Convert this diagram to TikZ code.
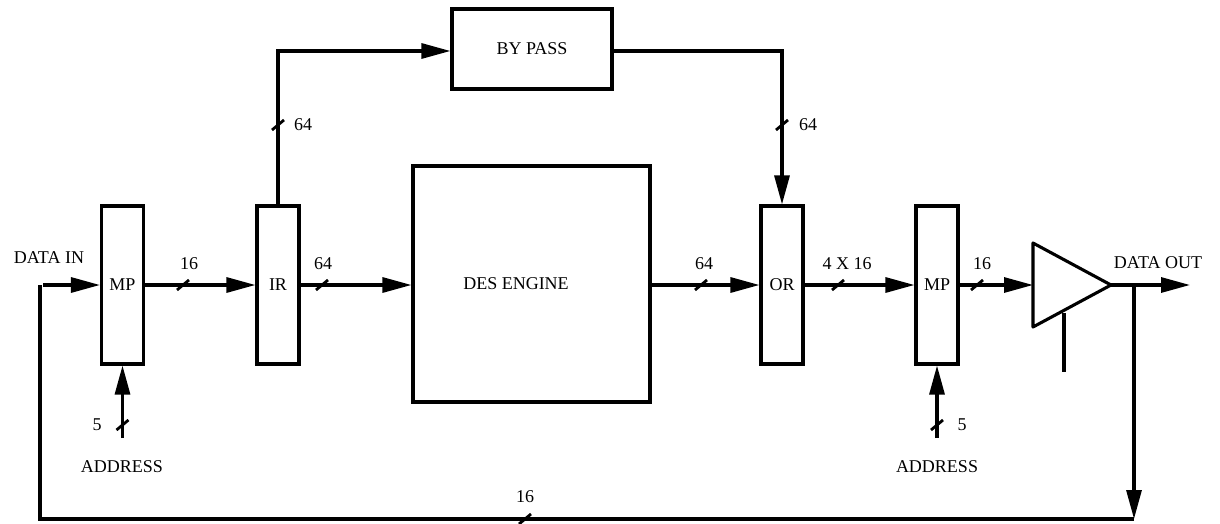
\documentclass[tikz,border=0pt]{standalone}
\usepackage{fontspec}
\setmainfont{Liberation Serif}
\usetikzlibrary{arrows.meta}
\begin{document}
\begin{tikzpicture}[x=1pt,y=-1pt, line width=3.1pt,
  every node/.style={font=\fontsize{18}{20}\selectfont},
  box/.style={draw, line width=3.1pt, inner sep=0pt, minimum width=42pt, minimum height=158pt},
  bigbox/.style={draw, line width=3.1pt, inner sep=0pt},
  arr/.style={-{Triangle[length=29pt,width=15pt]}},
  lbl/.style={inner sep=0pt},
  busmark/.pic={\draw[line width=2.8pt] (-6,5)--(6,-5);}
]
\useasboundingbox (0,0) rectangle (1220,524);

% blocks
\node[box] (mp1) at (122.5,285) {MP};
\node[box] (ir) at (278,285) {IR};
\node[bigbox, minimum width=237pt, minimum height=236pt] (des) at (531.5,284) {};
\node[lbl] (destxt) at (516,284) {DES ENGINE};
\node[bigbox, minimum width=160pt, minimum height=80pt] (bp) at (532,49) {BY PASS};
\node[box] (or) at (782,285) {OR};
\node[box] (mp2) at (937,285) {MP};

% buffer triangle
\coordinate (tl) at (1033,243);
\coordinate (tb) at (1033,327);
\coordinate (tip) at (1111,285);
\coordinate (tin) at (1033,285);
\draw[line join=round] (tl) -- (tip) -- (tb) -- cycle;
\coordinate (en1) at (1064,313);
\coordinate (en2) at (1064,372);
\draw (en1) -- (en2);

% coordinates
\coordinate (din) at (43,285);
\coordinate (fbl) at (40,285);
\coordinate (fbbl) at (40,519);
\coordinate (fbbr) at (1134,519);
\coordinate (fbtop) at (1134,285);
\coordinate (dout) at (1190,285);
\coordinate (a1) at (122.5,438);
\coordinate (a2) at (937,438);
\coordinate (irup) at (278,51);
\coordinate (bpr) at (782,51);

% main data path
\draw[arr] (din) -- (mp1.west);
\draw[arr] (mp1.east) -- (ir.west);
\draw[arr] (ir.east) -- (des.west |- ir.east);
\draw[arr] (des.east |- or.west) -- (or.west);
\draw[arr] (or.east) -- (mp2.west);
\draw[arr] (mp2.east) -- (tin);
\draw[arr] (tip) -- (dout);

% bypass
\draw[arr] (ir.north) -- (irup) -- (bp.west |- irup);
\draw[arr] (bp.east |- bpr) -- (bpr) -- (or.north);

% address inputs
\draw[arr] (a1) -- (mp1.south);
\draw[arr] (a2) -- (mp2.south);

% feedback
\draw[arr] (fbtop) -- (fbbr);
\draw (fbbr) -- (fbbl) -- (fbl);

% bus marks
\pic at (183,285) {busmark};
\pic at (322,285) {busmark};
\pic at (701,285) {busmark};
\pic at (838,285) {busmark};
\pic at (977,285) {busmark};
\pic at (278,125) {busmark};
\pic at (782,125) {busmark};
\pic at (122.5,425) {busmark};
\pic at (937,425) {busmark};
\pic at (525,519) {busmark};

% labels
\node[lbl] (l1) at (189,264) {16};
\node[lbl] (l2) at (323,264) {64};
\node[lbl] (l3) at (704,264) {64};
\node[lbl] (l4) at (847,264) {4 X 16};
\node[lbl] (l5) at (982,264) {16};
\node[lbl] (l6) at (303,125) {64};
\node[lbl] (l7) at (808,125) {64};
\node[lbl] (l8) at (97,425) {5};
\node[lbl] (l9) at (962,425) {5};
\node[lbl] (l10) at (525,497) {16};
\node[lbl] (ad1) at (122,467) {ADDRESS};
\node[lbl] (ad2) at (937,467) {ADDRESS};
\node[lbl] (dinl) at (49,258) {DATA IN};
\node[lbl] (doutl) at (1158,263) {DATA OUT};
\end{tikzpicture}
\end{document}
